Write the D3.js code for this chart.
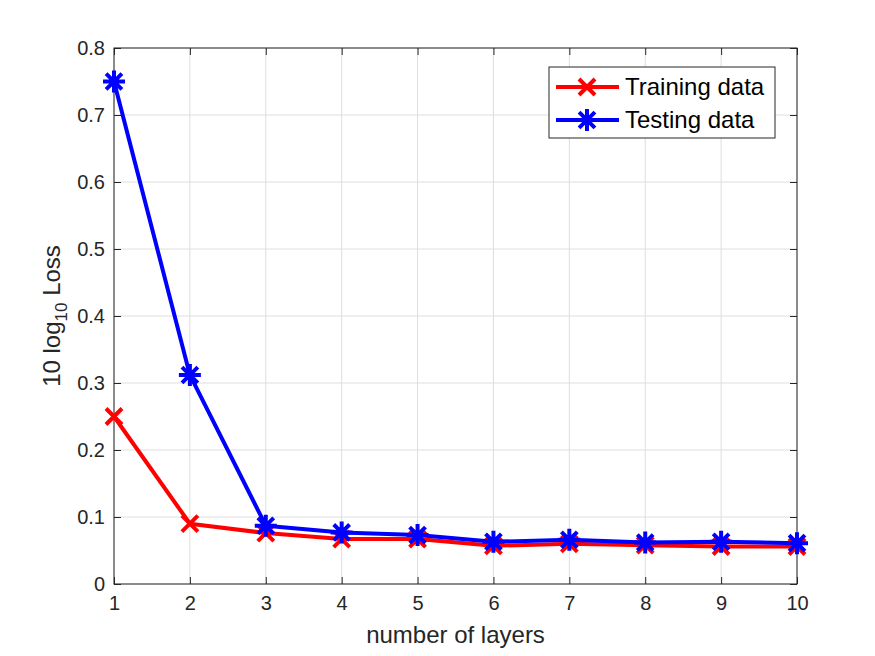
<!DOCTYPE html>
<html>
<head>
<meta charset="utf-8">
<script src="https://cdn.jsdelivr.net/npm/d3@7"></script>
<style>
  body { margin: 0; background: #fff; }
  text { font-family: "Liberation Sans", Arial, sans-serif; }
</style>
</head>
<body>
<div id="chart"></div>
<script>
// chart data
const layers = [1, 2, 3, 4, 5, 6, 7, 8, 9, 10];
const trainingLoss = [0.250, 0.090, 0.076, 0.067, 0.067, 0.057, 0.060, 0.058, 0.056, 0.056];
const testingLoss = [0.750, 0.312, 0.087, 0.077, 0.073, 0.063, 0.066, 0.062, 0.063, 0.061];
const xTicks = [1, 2, 3, 4, 5, 6, 7, 8, 9, 10];
const yTicks = [0, 0.1, 0.2, 0.3, 0.4, 0.5, 0.6, 0.7, 0.8];

const width = 875, height = 656;
const margin = {top: 48, right: 78, bottom: 72, left: 114};
const innerW = width - margin.left - margin.right;
const innerH = height - margin.top - margin.bottom;

const svg = d3.select('#chart').append('svg')
    .attr('width', width)
    .attr('height', height);

const chart = svg.append('g')
    .attr('transform', `translate(${margin.left},${margin.top})`);

const xScale = d3.scaleLinear().domain([1, 10]).range([0, innerW]);
const yScale = d3.scaleLinear().domain([0, 0.8]).range([innerH, 0]);

// grid lines
chart.append('g')
    .selectAll('line')
    .data(xTicks)
    .join('line')
    .attr('x1', d => xScale(d)).attr('x2', d => xScale(d))
    .attr('y1', 0).attr('y2', innerH)
    .attr('stroke', '#dedede').attr('stroke-width', 1);

chart.append('g')
    .selectAll('line')
    .data(yTicks)
    .join('line')
    .attr('x1', 0).attr('x2', innerW)
    .attr('y1', d => yScale(d)).attr('y2', d => yScale(d))
    .attr('stroke', '#dedede').attr('stroke-width', 1);

// axes (ticks point inward like MATLAB)
const xAxis = d3.axisBottom(xScale).tickValues(xTicks).tickSize(-7).tickPadding(12).tickFormat(d3.format('d'));
const yAxis = d3.axisLeft(yScale).tickValues(yTicks).tickSize(-7).tickPadding(9).tickFormat(d => d === 0 ? '0' : d3.format('.1f')(d));

chart.append('g')
    .attr('transform', `translate(0,${innerH})`)
    .call(xAxis);
chart.append('g').call(yAxis);

// top and right ticks
chart.append('g').call(d3.axisTop(xScale).tickValues(xTicks).tickSize(-7).tickFormat(''));
chart.append('g').attr('transform', `translate(${innerW},0)`)
    .call(d3.axisRight(yScale).tickValues(yTicks).tickSize(-7).tickFormat(''));

chart.selectAll('.domain').remove();
chart.selectAll('.tick line').attr('stroke', '#262626');
chart.selectAll('.tick text')
    .attr('fill', '#262626')
    .style('font-size', '20px');

// box
chart.append('rect')
    .attr('x', 0).attr('y', 0)
    .attr('width', innerW).attr('height', innerH)
    .attr('fill', 'none')
    .attr('stroke', '#262626')
    .attr('stroke-width', 1);

// axis titles
svg.append('text')
    .attr('x', margin.left + innerW / 2)
    .attr('y', 643)
    .attr('text-anchor', 'middle')
    .attr('fill', '#262626')
    .style('font-size', '24px')
    .text('number of layers');

const yLabel = svg.append('text')
    .attr('transform', `translate(60,${margin.top + innerH / 2}) rotate(-90)`)
    .attr('text-anchor', 'middle')
    .attr('fill', '#262626')
    .style('font-size', '24px');
yLabel.append('tspan').text('10 log');
yLabel.append('tspan').attr('dy', 7).style('font-size', '17px').text('10');
yLabel.append('tspan').attr('dy', -7).text(' Loss');

const line = d3.line()
    .x((d, i) => xScale(layers[i]))
    .y(d => yScale(d));

// cross marker
const crossPath = s => `M${-s},${-s}L${s},${s}M${-s},${s}L${s},${-s}`;
// asterisk marker (+ and x)
const starPath = s => {
    const t = s * 0.72;
    return `M${-s},0L${s},0M0,${-s}L0,${s}M${-t},${-t}L${t},${t}M${-t},${t}L${t},${-t}`;
};

const series = [
    {name: 'Training data', values: trainingLoss, color: '#ff0000', marker: crossPath(8)},
    {name: 'Testing data', values: testingLoss, color: '#0000ff', marker: starPath(11)}
];

series.forEach(s => {
    chart.append('path')
        .datum(s.values)
        .attr('fill', 'none')
        .attr('stroke', s.color)
        .attr('stroke-width', 4)
        .attr('stroke-linejoin', 'round')
        .attr('d', line);

    chart.selectAll(null)
        .data(s.values)
        .join('path')
        .attr('transform', (d, i) => `translate(${xScale(layers[i])},${yScale(d)})`)
        .attr('d', s.marker)
        .attr('fill', 'none')
        .attr('stroke', s.color)
        .attr('stroke-width', 4);
});

// legend
const legend = svg.append('g').attr('transform', 'translate(549,67)');
legend.append('rect')
    .attr('width', 226).attr('height', 71)
    .attr('fill', '#fff')
    .attr('stroke', '#262626')
    .attr('stroke-width', 1);

series.forEach((s, i) => {
    const y = 20 + i * 33;
    legend.append('line')
        .attr('x1', 7).attr('x2', 70)
        .attr('y1', y).attr('y2', y)
        .attr('stroke', s.color)
        .attr('stroke-width', 4);
    legend.append('path')
        .attr('transform', `translate(38,${y})`)
        .attr('d', s.marker)
        .attr('fill', 'none')
        .attr('stroke', s.color)
        .attr('stroke-width', 4);
    legend.append('text')
        .attr('x', 76).attr('y', y + 8)
        .attr('fill', '#000')
        .style('font-size', '24px')
        .text(s.name);
});
</script>
</body>
</html>
